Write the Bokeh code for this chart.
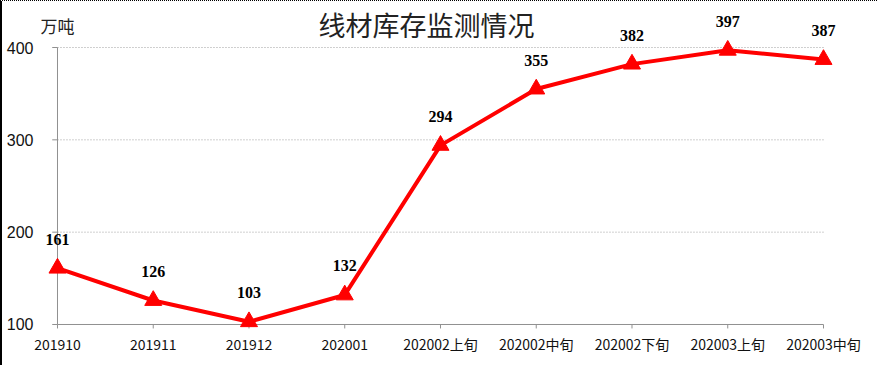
from bokeh.plotting import figure
from bokeh.models import ColumnDataSource, LabelSet, Range1d
from bokeh.embed import file_html
from bokeh.resources import INLINE

categories = ["201910", "201911", "201912", "202001", "202002上旬",
              "202002中旬", "202002下旬", "202003上旬", "202003中旬"]
values = [161, 126, 103, 132, 294, 355, 382, 397, 387]
y_ticks = [100, 200, 300, 400]
title_text = "线材库存监测情况"
unit_text = "万吨"

n = len(categories)
xs = list(range(n))
src = ColumnDataSource(dict(x=xs, y=values, lab=[str(v) for v in values]))

# The frame fills the whole canvas; ranges are padded so that the axes sit
# where they sit in the reference (axes are drawn from the ticks below).
p = figure(width=877, height=365, output_backend="svg", toolbar_location=None,
           x_range=Range1d(-0.5744, n - 1 + 0.5849), y_range=Range1d(54.51, 449.82),
           x_axis_location=None, y_axis_location=None,
           min_border_left=0, min_border_right=0, min_border_top=0, min_border_bottom=0)
p.styles = {"border-left": "2px solid black", "border-top": "1px dotted black"}
p.outline_line_color = None
p.background_fill_color = "white"
p.border_fill_color = "white"
p.xgrid.grid_line_color = None
p.ygrid.grid_line_color = None

axis_color = "#909090"
y0 = y_ticks[0]

# horizontal dotted grid lines
grid_y = [t for t in y_ticks if t > y0]
p.segment(x0=[0] * len(grid_y), y0=grid_y, x1=[n - 1] * len(grid_y), y1=grid_y,
          line_color="#a0a0a0", line_dash="1 2", line_width=1)

# category axis (at the lowest value tick)
p.segment(x0=[0], y0=[y0], x1=[n - 1], y1=[y0], line_color=axis_color, line_width=1)
x_tick_len = 4.3
p.segment(x0=xs, y0=[y0] * n, x1=xs, y1=[y0 - x_tick_len] * n,
          line_color=axis_color, line_width=1)
p.text(x=xs, y=[y0] * n, text=categories, y_offset=20,
       text_align="center", text_baseline="middle",
       text_font={"value": "Noto Sans CJK SC"}, text_font_size="14px", text_color="#111111")

# value axis (at the first category)
p.segment(x0=[0], y0=[y0], x1=[0], y1=[y_ticks[-1]], line_color=axis_color, line_width=1)
y_tick_len = 0.055
p.segment(x0=[0] * len(y_ticks), y0=y_ticks, x1=[-y_tick_len] * len(y_ticks), y1=y_ticks,
          line_color=axis_color, line_width=1)
p.text(x=[0] * len(y_ticks), y=y_ticks, text=[str(t) for t in y_ticks],
       x_offset=-24, text_align="right", text_baseline="middle",
       text_font={"value": "Liberation Sans"}, text_font_size="16px", text_color="#111111")

# series
p.line("x", "y", source=src, line_color="#ff0000", line_width=4)
p.scatter("x", "y", source=src, marker="triangle", size=17,
          fill_color="#ff0000", line_color="#ff0000")

labels = LabelSet(x="x", y="y", text="lab", source=src, y_offset=29,
                  text_align="center", text_baseline="middle",
                  text_font="Liberation Serif", text_font_style="bold",
                  text_font_size="16px", text_color="#000000")
p.add_layout(labels)

# title and unit
p.text(x=[3.854], y=[424.9], text=[title_text], text_align="center",
       text_baseline="middle", text_font={"value": "Noto Sans CJK SC"},
       text_font_size="27px", text_color="#222222")
p.text(x=[0], y=[424.0], text=[unit_text], text_align="center",
       text_baseline="middle", text_font={"value": "Noto Sans CJK SC"},
       text_font_size="17px", text_color="#222222")

open("out.html", "w").write(file_html(p, INLINE))
